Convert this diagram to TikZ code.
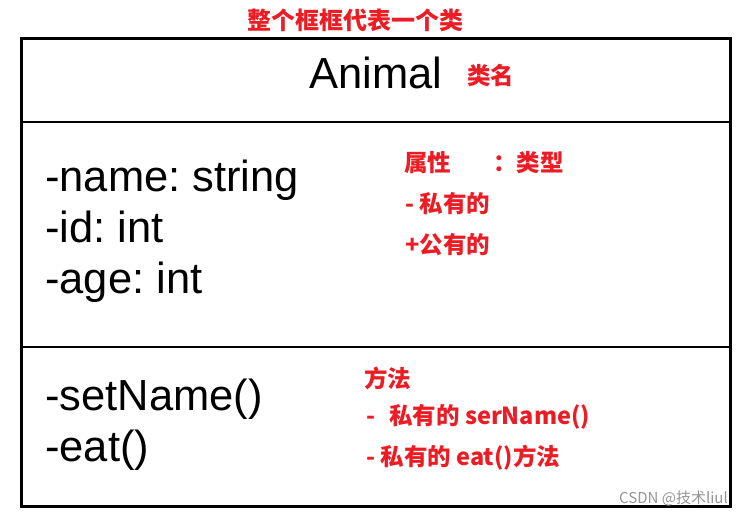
\documentclass[tikz,border=0pt]{standalone}
\usepackage{fontspec}
\setmainfont{Liberation Sans}
\newfontfamily\cjk{Noto Sans CJK SC}
\frenchspacing
\definecolor{annot}{RGB}{236,28,36}
\definecolor{wm}{RGB}{150,150,150}
\tikzset{
  umltext/.style={inner sep=0pt, anchor=base west, font=\fontsize{43.5}{51}\selectfont, text=black},
  note/.style={inner sep=0pt, anchor=west, font=\cjk\bfseries\fontsize{23.5}{28}\selectfont, text=annot},
  frame/.style={draw=black, line width=3pt},
  divider/.style={draw=black, line width=2.2pt}
}
\begin{document}
\begin{tikzpicture}[x=1pt,y=-1pt]
\useasboundingbox (0,0) rectangle (741,518);
\fill[white] (0,0) rectangle (741,518);
% class box
\coordinate (tl) at (21,39);
\coordinate (br) at (730,506);
\draw[frame] (tl) rectangle (br);
\coordinate (d1l) at (21,122); \coordinate (d1r) at (730,122);
\coordinate (d2l) at (21,347); \coordinate (d2r) at (730,347);
\draw[divider] (d1l) -- (d1r);
\draw[divider] (d2l) -- (d2r);
% class name
\node[umltext, anchor=base] (cls) at (376,89) {Animal};
% attributes
\node[umltext] (a1) at (45,192) {-name: string};
\node[umltext] (a2) at (45,243) {-id: int};
\node[umltext] (a3) at (45,294) {-age: int};
% methods
\node[umltext] (m1) at (45,410) {-setName()};
\node[umltext] (m2) at (45,461) {-eat()};
% annotations
\node[note, anchor=center, font=\cjk\bfseries\fontsize{24}{28}\selectfont] (title) at (355,20) {整个框框代表一个类};
\node[note] (n0) at (467,75) {类名};
\node[note] (n1) at (404,163) {属性\hspace{42pt}：类型};
\node[note] (n2) at (405,204) {- 私有的};
\node[note] (n3) at (405,245) {+公有的};
\node[note] (n4) at (364,378) {方法};
\node[note] (n5) at (366,417) {-\hspace{14pt}私有的 serName()};
\node[note] (n6) at (366,458) {- 私有的 eat()方法};
% watermark
\node[inner sep=0pt, anchor=east, font=\cjk\fontsize{15}{18}\selectfont, text=wm] (wmk) at (728,498) {CSDN @技术liul};
\end{tikzpicture}
\end{document}
